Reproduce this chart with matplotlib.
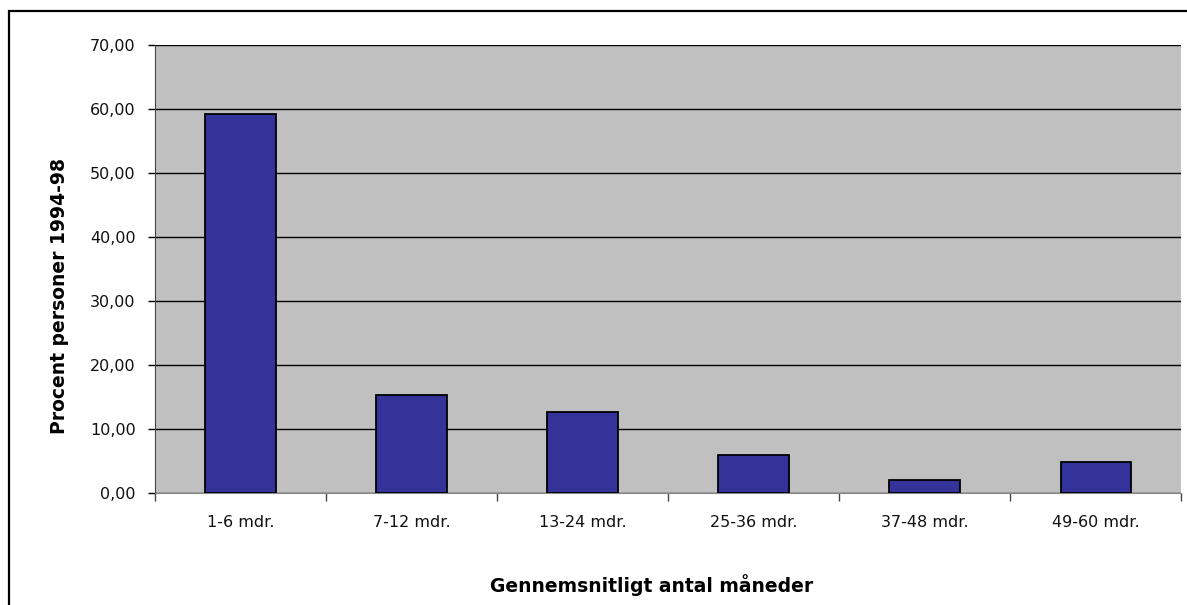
import matplotlib.pyplot as plt
from matplotlib.patches import Rectangle
from matplotlib.ticker import FixedLocator, FuncFormatter

categories = ["1-6 mdr.", "7-12 mdr.", "13-24 mdr.", "25-36 mdr.", "37-48 mdr.", "49-60 mdr."]
values = [59.2, 15.4, 12.6, 5.9, 2.1, 4.8]
yticks = [0, 10, 20, 30, 40, 50, 60, 70]

plt.rcParams["font.family"] = ["DejaVu Sans"]

fig = plt.figure(figsize=(11.87, 6.05), dpi=100)
ax = fig.add_axes([0.1306, 0.185, 0.995 - 0.1306, 0.9256 - 0.185])
ax.set_facecolor("#C0C0C0")

x = list(range(len(categories)))
ax.bar(x, values, width=0.41, color="#333399", edgecolor="black", linewidth=1.3, zorder=3)

ax.set_xlim(-0.5, len(categories) - 0.5)
ax.set_ylim(0, 70)
ax.set_yticks(yticks)
ax.yaxis.set_major_formatter(FuncFormatter(lambda v, p: f"{v:.2f}".replace(".", ",")))
ax.yaxis.grid(True, color="black", linewidth=1.0, zorder=1)

# category labels centred, tick marks on the boundaries between them
ax.set_xticks(x)
ax.set_xticklabels(categories)
ax.tick_params(axis="x", length=0, pad=16, labelsize=11.5, labelcolor="#111111")
ax.xaxis.set_minor_locator(FixedLocator([i - 0.5 for i in range(len(categories) + 1)]))
ax.tick_params(axis="x", which="minor", length=6, width=1, color="#444444")
ax.tick_params(axis="y", length=5, width=1, labelsize=11.5, pad=9, labelcolor="#111111")

for side in ["top", "right"]:
    ax.spines[side].set_visible(False)
ax.spines["left"].set_color("#444444")
ax.spines["bottom"].set_color("#888888")

fig.text(60 / 1187, 1 - 296 / 605, "Procent personer 1994-98", rotation=90,
         ha="center", va="center", fontsize=13.5, fontweight="bold")
fig.text(652 / 1187, 1 - 585 / 605, "Gennemsnitligt antal måneder",
         ha="center", va="center", fontsize=13.5, fontweight="bold")

# outer chart border
fig.patches.append(Rectangle((0.008, -0.05), 1.05, 0.982 + 0.05, transform=fig.transFigure,
                             fill=False, edgecolor="black", linewidth=1.6))

fig.savefig("out.png", dpi=100)
